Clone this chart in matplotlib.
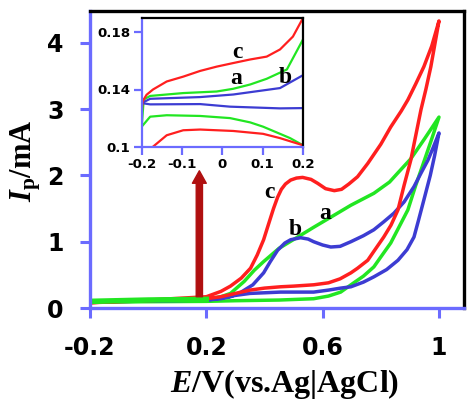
import numpy as np
import matplotlib.pyplot as plt

plt.rcParams['font.family'] = ['DejaVu Sans']
plt.rcParams['mathtext.fontset'] = 'custom'
plt.rcParams['mathtext.it'] = 'Liberation Serif:italic:bold'
plt.rcParams['mathtext.rm'] = 'Liberation Serif:bold'

# ---- main CV curves (E in V, I in mA) ----
# curve c (red)
c_fwd_x = [-0.2, 0.0, 0.2, 0.25, 0.283, 0.32, 0.352, 0.375, 0.397, 0.415, 0.431, 0.445,
           0.458, 0.472, 0.49, 0.51, 0.531, 0.56, 0.583, 0.61, 0.64, 0.665, 0.69, 0.72,
           0.755, 0.8, 0.834, 0.87, 0.893, 0.92, 0.948, 0.975, 1.0]
c_fwd_y = [0.08, 0.12, 0.17, 0.25, 0.33, 0.45, 0.6, 0.8, 1.03, 1.28, 1.5, 1.67,
           1.79, 1.87, 1.93, 1.96, 1.97, 1.94, 1.88, 1.8, 1.77, 1.79, 1.87, 1.98,
           2.18, 2.47, 2.73, 2.97, 3.14, 3.38, 3.64, 3.95, 4.33]
c_rev_x = [1.0, 0.972, 0.955, 0.938, 0.92, 0.903, 0.88, 0.859, 0.835, 0.81, 0.78, 0.755,
           0.72, 0.697, 0.66, 0.62, 0.569, 0.5, 0.455, 0.4, 0.35, 0.3, 0.25, 0.2, 0.0, -0.2]
c_rev_y = [4.33, 3.64, 3.3, 2.99, 2.6, 2.23, 1.85, 1.48, 1.25, 1.07, 0.88, 0.72,
           0.6, 0.53, 0.44, 0.38, 0.35, 0.33, 0.32, 0.3, 0.27, 0.22, 0.17, 0.14, 0.11, 0.08]

# curve a (green)
a_fwd_x = [-0.2, 0.0, 0.2, 0.25, 0.283, 0.33, 0.365, 0.397, 0.45, 0.514, 0.57, 0.628,
           0.697, 0.776, 0.83, 0.859, 0.903, 0.95, 1.0]
a_fwd_y = [0.1, 0.12, 0.13, 0.17, 0.22, 0.4, 0.57, 0.7, 0.9, 1.07, 1.22, 1.37,
           1.55, 1.73, 1.9, 2.04, 2.25, 2.55, 2.88]
a_rev_x = [1.0, 0.975, 0.95, 0.92, 0.893, 0.86, 0.834, 0.8, 0.776, 0.74, 0.707, 0.662,
           0.62, 0.569, 0.45, 0.3, 0.2, -0.2]
a_rev_y = [2.88, 2.55, 2.23, 1.85, 1.48, 1.2, 0.98, 0.77, 0.62, 0.48, 0.38, 0.24,
           0.18, 0.14, 0.12, 0.11, 0.1, 0.09]

# curve b (blue)
b_fwd_x = [-0.2, 0.0, 0.2, 0.25, 0.283, 0.32, 0.36, 0.397, 0.42, 0.445, 0.47, 0.49,
           0.524, 0.55, 0.569, 0.6, 0.628, 0.66, 0.697, 0.74, 0.776, 0.81, 0.845, 0.88,
           0.914, 0.94, 0.962, 0.98, 1.0]
b_fwd_y = [0.1, 0.11, 0.12, 0.14, 0.17, 0.24, 0.35, 0.53, 0.7, 0.87, 0.98, 1.03,
           1.06, 1.04, 1.0, 0.95, 0.92, 0.93, 1.0, 1.09, 1.18, 1.3, 1.43, 1.6,
           1.83, 2.05, 2.23, 2.42, 2.64]
b_rev_x = [1.0, 0.985, 0.97, 0.948, 0.93, 0.914, 0.89, 0.859, 0.82, 0.776, 0.74, 0.697,
           0.662, 0.62, 0.569, 0.455, 0.35, 0.3, 0.25, 0.2, -0.2]
b_rev_y = [2.64, 2.3, 2.0, 1.63, 1.33, 1.07, 0.88, 0.72, 0.58, 0.47, 0.39, 0.32,
           0.3, 0.27, 0.24, 0.24, 0.22, 0.19, 0.15, 0.12, 0.09]

# ---- inset (-0.2 .. 0.2 V) ----
ins_c_up_x = [-0.2, -0.198, -0.188, -0.172, -0.138, -0.097, -0.055, -0.014, 0.027, 0.069,
              0.11, 0.143, 0.175, 0.2]
ins_c_up_y = [0.123, 0.1316, 0.1363, 0.14, 0.1456, 0.149, 0.153, 0.156, 0.1585, 0.161,
              0.163, 0.168, 0.177, 0.19]
ins_c_lo_x = [0.2, 0.143, 0.101, 0.027, -0.055, -0.097, -0.138, -0.172, -0.19]
ins_c_lo_y = [0.101, 0.106, 0.109, 0.111, 0.112, 0.1115, 0.108, 0.1, 0.093]

ins_a_up_x = [-0.2, -0.195, -0.179, -0.097, -0.014, 0.027, 0.069, 0.11, 0.16, 0.2]
ins_a_up_y = [0.114, 0.133, 0.1355, 0.1375, 0.1386, 0.1405, 0.1435, 0.1475, 0.154, 0.175]
ins_a_lo_x = [0.2, 0.168, 0.143, 0.101, 0.069, 0.019, -0.055, -0.138, -0.179, -0.2]
ins_a_lo_y = [0.101, 0.106, 0.109, 0.114, 0.117, 0.12, 0.1215, 0.122, 0.121, 0.114]

ins_b_up_x = [-0.2, -0.179, -0.055, 0.027, 0.143, 0.2]
ins_b_up_y = [0.1305, 0.1335, 0.1347, 0.1365, 0.141, 0.15]
ins_b_lo_x = [0.2, 0.143, 0.019, -0.055, -0.179, -0.2]
ins_b_lo_y = [0.127, 0.1268, 0.128, 0.1298, 0.1296, 0.1305]

# curve labels
main_labels = ['c', 'b', 'a']
main_label_x = [0.417, 0.507, 0.61]
main_label_y = [1.74, 1.18, 1.42]
ins_labels = ['c', 'a', 'b']
ins_label_x = [0.038, 0.034, 0.155]
ins_label_y = [0.1656, 0.1475, 0.1486]

# arrow marking the inset region
arrow_x = 0.176
arrow_y0 = 0.17
arrow_y1 = 2.07

RED = '#ff1f1f'
GREEN = '#22e622'
BLUE = '#3c3cd2'
SPINE_BLUE = '#6b6bff'
SERIF = 'Liberation Serif'

fig = plt.figure(figsize=(4.7, 4.0), dpi=100)
ax = fig.add_axes([90 / 470, 92 / 400, 374 / 470, 297 / 400])

lw = 2.5
ax.plot(a_fwd_x + a_rev_x, a_fwd_y + a_rev_y, color=GREEN, lw=lw, solid_joinstyle='round')
ax.plot(b_fwd_x + b_rev_x, b_fwd_y + b_rev_y, color=BLUE, lw=lw, solid_joinstyle='round')
ax.plot(c_fwd_x + c_rev_x, c_fwd_y + c_rev_y, color=RED, lw=lw, solid_joinstyle='round')
# green baseline lies on top at the start
ax.plot(a_fwd_x[:3], a_fwd_y[:3], color=GREEN, lw=lw + 1.5)

ax.annotate('', xy=(arrow_x, arrow_y1), xytext=(arrow_x, arrow_y0),
            arrowprops=dict(arrowstyle='simple,head_width=1.0,head_length=0.9,tail_width=0.45',
                            mutation_scale=10, color='#b01010', shrinkA=0, shrinkB=0))

for lab, x, y in zip(main_labels, main_label_x, main_label_y):
    ax.text(x, y, lab, fontsize=17, fontweight='bold', family=SERIF,
            ha='center', va='center')

ax.set_xlim(-0.2, 1.086)
ax.set_ylim(0, 4.48)
ax.set_xticks([-0.2, 0.2, 0.6, 1.0])
ax.set_xticklabels(['-0.2', '0.2', '0.6', '1'])
ax.set_yticks([0, 1, 2, 3, 4])
ax.tick_params(axis='both', direction='out', length=7, width=2.2, color=SPINE_BLUE,
               labelsize=17)
ax.tick_params(axis='y', pad=12)
ax.tick_params(axis='x', pad=13)
for lbl in ax.get_xticklabels() + ax.get_yticklabels():
    lbl.set_fontweight('bold')

for side in ['left', 'bottom']:
    ax.spines[side].set_color(SPINE_BLUE)
    ax.spines[side].set_linewidth(2.4)
for side in ['top', 'right']:
    ax.spines[side].set_color('black')
    ax.spines[side].set_linewidth(2.4)

ax.set_xlabel(r'$E$/V(vs.Ag|AgCl)', fontsize=23, fontweight='bold', family=SERIF)
ax.set_ylabel(r'$I_{\rm p}$/mA', fontsize=22, fontweight='bold', family=SERIF)
ax.xaxis.set_label_coords(0.519, -0.2)
ax.yaxis.set_label_coords(-0.125, 0.495)

# ---- inset ----
ins = fig.add_axes([141.7 / 470, (400 - 146.7) / 400, 161.3 / 470, 128.7 / 400])
ilw = 1.6
ins.plot(ins_a_up_x, ins_a_up_y, color=GREEN, lw=ilw)
ins.plot(ins_a_lo_x, ins_a_lo_y, color=GREEN, lw=ilw)
ins.plot(ins_b_up_x, ins_b_up_y, color=BLUE, lw=ilw)
ins.plot(ins_b_lo_x, ins_b_lo_y, color=BLUE, lw=ilw)
ins.plot(ins_c_up_x, ins_c_up_y, color=RED, lw=ilw)
ins.plot(ins_c_lo_x, ins_c_lo_y, color=RED, lw=ilw)

for lab, x, y in zip(ins_labels, ins_label_x, ins_label_y):
    ins.text(x, y, lab, fontsize=17, fontweight='bold', family=SERIF,
             ha='center', va='center')

ins.set_xlim(-0.2, 0.2)
ins.set_ylim(0.1, 0.19)
ins.set_xticks([-0.2, -0.1, 0, 0.1, 0.2])
ins.set_xticklabels(['-0.2', '-0.1', '0', '0.1', '0.2'])
ins.set_yticks([0.1, 0.14, 0.18])
ins.set_yticklabels(['0.1', '0.14', '0.18'])
ins.tick_params(axis='both', direction='out', length=6, width=1.6, color=SPINE_BLUE,
                labelsize=9.6, pad=2)
for lbl in ins.get_xticklabels() + ins.get_yticklabels():
    lbl.set_fontweight('bold')
for side in ['left', 'bottom']:
    ins.spines[side].set_color(SPINE_BLUE)
    ins.spines[side].set_linewidth(1.6)
for side in ['top', 'right']:
    ins.spines[side].set_color('black')
    ins.spines[side].set_linewidth(1.6)

fig.savefig('out.png', dpi=100)
